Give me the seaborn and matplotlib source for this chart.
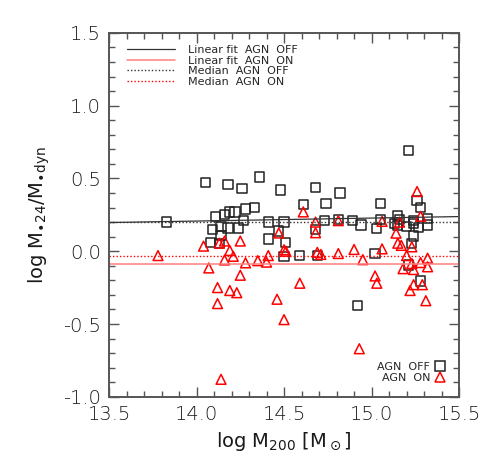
import numpy as np
import pandas as pd
import matplotlib
matplotlib.use("Agg")
import matplotlib.pyplot as plt
import seaborn as sns
from matplotlib.lines import Line2D
from matplotlib.ticker import MultipleLocator, FormatStrFormatter

# AGN OFF (squares)
x_off = [13.83, 14.05, 14.18, 14.36, 14.26, 14.48, 14.33, 14.28, 14.11, 14.16,
         14.19, 14.22, 14.27, 14.41, 14.50, 14.09, 14.14, 14.18, 14.24, 14.14,
         14.08, 14.13, 14.41, 14.47, 14.51, 14.50, 14.59, 14.68, 14.82, 14.61,
         14.74, 15.05, 15.21, 15.26, 15.28, 14.81, 14.89, 14.73, 14.94, 15.05,
         15.03, 15.15, 15.16, 15.13, 15.15, 15.20, 15.24, 15.24, 15.32, 15.32,
         15.27, 15.24, 15.23, 14.68, 14.69, 15.02, 14.92, 15.21, 15.28]
y_off = [0.20, 0.47, 0.46, 0.51, 0.43, 0.42, 0.30, 0.29, 0.24, 0.25,
         0.27, 0.27, 0.21, 0.20, 0.20, 0.15, 0.17, 0.16, 0.16, 0.11,
         0.06, 0.055, 0.085, 0.14, 0.06, -0.035, -0.03, 0.44, 0.40, 0.32,
         0.33, 0.33, 0.69, 0.35, 0.30, 0.22, 0.21, 0.21, 0.18, 0.22,
         0.155, 0.245, 0.22, 0.19, 0.175, 0.17, 0.21, 0.19, 0.225, 0.18,
         0.165, 0.105, 0.055, 0.15, -0.03, -0.015, -0.375, -0.095, -0.205]

# AGN ON (triangles)
x_on = [13.78, 14.04, 14.13, 14.16, 14.25, 14.19, 14.21, 14.16, 14.07, 14.28,
        14.35, 14.41, 14.40, 14.47, 14.50, 14.51, 14.25, 14.12, 14.19, 14.23,
        14.12, 14.46, 14.50, 14.14, 14.59, 14.61, 14.68, 14.68, 14.81, 15.06,
        15.26, 15.28, 15.16, 15.14, 15.15, 15.17, 15.23, 15.06, 14.90, 14.81,
        14.69, 14.71, 15.20, 15.32, 14.95, 15.02, 15.03, 14.93, 15.18, 15.24,
        15.28, 15.32, 15.23, 15.24, 15.22, 15.29, 15.31]
y_on = [-0.03, 0.035, 0.055, 0.07, 0.07, 0.005, -0.035, -0.06, -0.115, -0.08,
        -0.065, -0.03, -0.075, 0.125, 0.01, 0.0, -0.165, -0.25, -0.27, -0.285,
        -0.36, -0.33, -0.47, -0.88, -0.22, 0.27, 0.20, 0.127, 0.21, 0.205,
        0.41, 0.24, 0.20, 0.124, 0.055, 0.04, 0.03, 0.016, 0.012, -0.016,
        -0.008, -0.022, -0.03, -0.048, -0.058, -0.17, -0.22, -0.67, -0.12, -0.126,
        -0.078, -0.107, -0.085, -0.23, -0.27, -0.23, -0.34]

# fit / median lines
line_x = [13.5, 15.5]
fit_off = [0.197, 0.238]
fit_on = [-0.09, -0.09]
median_off = 0.20
median_on = -0.035

sns.set_style("ticks")
plt.rcParams["font.family"] = ["DejaVu Sans"]
plt.rcParams["font.weight"] = "light"
plt.rcParams["mathtext.default"] = "regular"

fig = plt.figure(figsize=(4.91, 4.63), dpi=100)
ax = fig.add_axes([0.222, 0.143, 0.713, 0.786])

df_off = pd.DataFrame({"m200": x_off, "ratio": y_off})
df_on = pd.DataFrame({"m200": x_on, "ratio": y_on})

l1, = ax.plot(line_x, fit_off, color="#333333", lw=0.9)
l2, = ax.plot(line_x, fit_on, color="#ff8080", lw=1.1)
l3 = ax.axhline(median_off, color="#333333", lw=1.0, ls=(0, (1, 1.5)))
l4 = ax.axhline(median_on, color="red", lw=1.0, ls=(0, (1, 1.5)))

sns.scatterplot(data=df_off, x="m200", y="ratio", marker="s", s=45,
                facecolor="none", edgecolor="#222222", linewidth=1.1, ax=ax)
sns.scatterplot(data=df_on, x="m200", y="ratio", marker="^", s=50,
                facecolor="none", edgecolor="red", linewidth=1.1, ax=ax)

ax.set_xlim(13.5, 15.5)
ax.set_ylim(-1.0, 1.5)
ax.xaxis.set_major_locator(MultipleLocator(0.5))
ax.xaxis.set_minor_locator(MultipleLocator(0.1))
ax.yaxis.set_major_locator(MultipleLocator(0.5))
ax.yaxis.set_minor_locator(MultipleLocator(0.1))
ax.xaxis.set_major_formatter(FormatStrFormatter("%.1f"))
ax.yaxis.set_major_formatter(FormatStrFormatter("%.1f"))
ax.tick_params(which="both", direction="in", top=True, right=True,
               labelsize=14, color="#555555", labelcolor="#1a1a1a", width=1.0, pad=6)
ax.tick_params(which="major", length=7)
ax.tick_params(which="minor", length=4)
for sp in ax.spines.values():
    sp.set_linewidth(1.4)
    sp.set_color("#555555")

ax.set_xlabel(r"log M$_{200}$ [M$_\odot$]", fontsize=14, color="#1a1a1a")
ax.set_ylabel(r"log M$_{\bullet24}$/M$_{\bullet dyn}$", fontsize=14,
              color="#1a1a1a", labelpad=8)

leg1 = ax.legend([l1, l2, l3, l4],
                 ["Linear fit  AGN  OFF", "Linear fit  AGN  ON", "Median  AGN  OFF", "Median  AGN  ON"],
                 loc="upper left", bbox_to_anchor=(0.051, 0.966), frameon=False,
                 prop={"size": 8, "weight": "normal"}, handlelength=4.3,
                 labelspacing=0.05, borderaxespad=0, borderpad=0, handletextpad=1.2)
ax.add_artist(leg1)

h_off = Line2D([], [], marker="s", ls="none", mfc="none", mec="#222222", ms=6.5, mew=1.1)
h_on = Line2D([], [], marker="^", ls="none", mfc="none", mec="red", ms=7, mew=1.1)
ax.legend([h_off, h_on], ["AGN  OFF", "AGN  ON"], loc="lower right",
          bbox_to_anchor=(0.962, 0.039), frameon=False,
          prop={"size": 8, "weight": "normal"},
          markerfirst=False, handlelength=1.0, labelspacing=0.05,
          handletextpad=0.4, borderaxespad=0, borderpad=0)

fig.savefig("out.png", dpi=100)
